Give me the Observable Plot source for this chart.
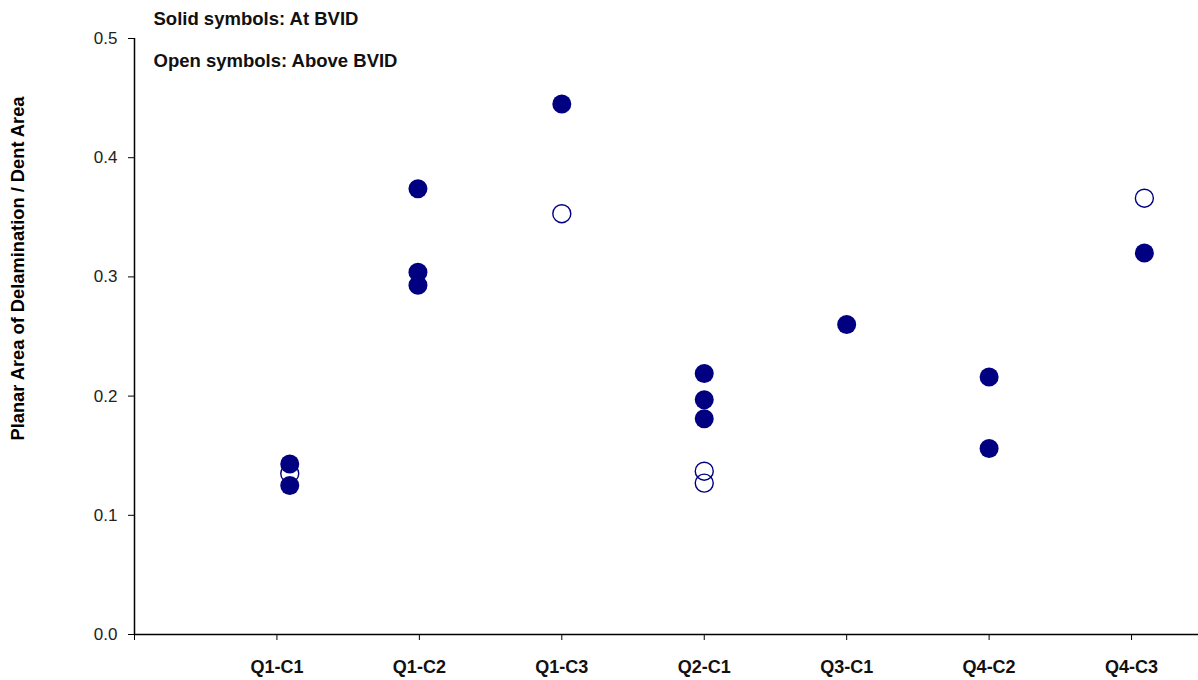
<!DOCTYPE html>
<html>
<head>
<meta charset="utf-8">
<script src="https://cdn.jsdelivr.net/npm/d3@7"></script>
<script src="https://cdn.jsdelivr.net/npm/@observablehq/plot@0.6"></script>
<style>
  html, body { margin: 0; padding: 0; background: #fff; }
  #chart svg { display: block; font-family: "Liberation Sans", Arial, sans-serif; }
</style>
</head>
<body>
<div id="chart"></div>
<script>
// Categories and their plotted x positions (Excel series positions)
const categories = ["Q1-C1", "Q1-C2", "Q1-C3", "Q2-C1", "Q3-C1", "Q4-C2", "Q4-C3"];
const categoryPos = [1.09, 1.99, 3.0, 4.0, 5.0, 6.0, 7.09];

// Solid symbols: At BVID
const solidCategory = ["Q1-C1", "Q1-C1", "Q1-C2", "Q1-C2", "Q1-C2", "Q1-C3", "Q2-C1", "Q2-C1", "Q2-C1", "Q3-C1", "Q4-C2", "Q4-C2", "Q4-C3"];
const solidValue    = [0.143, 0.125, 0.374, 0.304, 0.293, 0.445, 0.219, 0.197, 0.181, 0.260, 0.216, 0.156, 0.320];

// Open symbols: Above BVID
const openCategory = ["Q1-C1", "Q1-C3", "Q2-C1", "Q2-C1", "Q4-C3"];
const openValue    = [0.135, 0.353, 0.137, 0.127, 0.366];

const xTicks = [0, 1, 2, 3, 4, 5, 6, 7];
const yTicks = [0, 0.1, 0.2, 0.3, 0.4, 0.5];
const yTitle = "Planar Area of Delamination / Dent Area";
const legendSolid = "Solid symbols: At BVID";
const legendOpen = "Open symbols: Above BVID";

const posOf = c => categoryPos[categories.indexOf(c)];
const solid = solidCategory.map((c, i) => ({x: posOf(c), y: solidValue[i]}));
const open = openCategory.map((c, i) => ({x: posOf(c), y: openValue[i]}));

const navy = "#000080";

const chart = Plot.plot({
  width: 1198,
  height: 680,
  marginLeft: 134,
  marginRight: 0,
  marginTop: 38,
  marginBottom: 46,
  style: {fontFamily: "'Liberation Sans', Arial, sans-serif", background: "#fff", overflow: "visible"},
  x: {domain: [0, 7.47], axis: null},
  y: {domain: [0, 0.5], axis: null},
  marks: [
    Plot.axisY({ticks: yTicks, tickFormat: d3.format(".1f"), tickSize: 6, tickPadding: 11, fontSize: 17, label: null, stroke: "#000", fill: "#222"}),
    Plot.axisX({ticks: xTicks, tickFormat: i => i >= 1 ? categories[i - 1] : "", tickSize: 6, tickPadding: 20, fontSize: 18, fontWeight: "bold", label: null, stroke: "#000", fill: "#111"}),
    Plot.ruleX([0], {stroke: "#000", strokeWidth: 1.5}),
    Plot.ruleY([0], {stroke: "#000", strokeWidth: 1.5}),
    Plot.dot(open, {x: "x", y: "y", r: 9, fill: "none", stroke: navy, strokeWidth: 1.4}),
    Plot.dot(solid, {x: "x", y: "y", r: 9.5, fill: navy, stroke: "none"}),
    Plot.text([legendSolid], {frameAnchor: "top-left", dx: 19, dy: -27, text: d => d, fontSize: 18.5, fontWeight: "bold", fill: "#111", textAnchor: "start"}),
    Plot.text([legendOpen], {frameAnchor: "top-left", dx: 19, dy: 15, text: d => d, fontSize: 18.5, fontWeight: "bold", fill: "#111", textAnchor: "start"}),
    Plot.text([yTitle], {frameAnchor: "left", rotate: -90, dx: -116, dy: -68, text: d => d, fontSize: 18.3, fontWeight: "bold", fill: "#000", textAnchor: "middle"})
  ]
});
document.getElementById("chart").appendChild(chart);
</script>
</body>
</html>
